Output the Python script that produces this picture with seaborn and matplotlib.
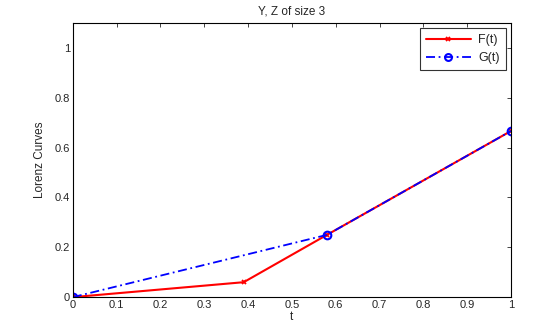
import matplotlib
matplotlib.use("Agg")
from matplotlib import pyplot as plt
import seaborn as sns
import pandas as pd
import numpy as np

# values
f_t = [0.0, 0.39, 0.58, 1.0]
f_val = [0.0, 0.06, 0.25, 0.667]
g_t = [0.0, 0.58, 1.0]
g_val = [0.0, 0.25, 0.667]
x_ticks = [0, 0.1, 0.2, 0.3, 0.4, 0.5, 0.6, 0.7, 0.8, 0.9, 1]
y_ticks = [0, 0.2, 0.4, 0.6, 0.8, 1]

sns.set_style("white")
plt.rcParams['font.family'] = ['Liberation Sans', 'DejaVu Sans']
plt.rcParams['xtick.direction'] = 'in'
plt.rcParams['ytick.direction'] = 'in'

fig = plt.figure(figsize=(5.6, 3.35), dpi=100)
ax = fig.add_axes([0.130, 0.113, 0.7825, 0.818])

df_f = pd.DataFrame({"t": f_t, "v": f_val})
df_g = pd.DataFrame({"t": g_t, "v": g_val})

sns.lineplot(data=df_f, x="t", y="v", ax=ax, color="red", linewidth=1.5,
             marker="x", markersize=3.5, markeredgewidth=1.3, markeredgecolor="red",
             label="F(t)")
sns.lineplot(data=df_g, x="t", y="v", ax=ax, color="blue", linewidth=1.3,
             linestyle=(0, (5, 2, 1, 2)), marker="o", markersize=5.5,
             markerfacecolor="none", markeredgewidth=1.5, markeredgecolor="blue",
             label="G(t)")

ax.set_xlim(0, 1)
ax.set_ylim(0, 1.1)
ax.set_xticks(x_ticks)
ax.set_xticklabels([f"{v:g}" for v in x_ticks])
ax.set_yticks(y_ticks)
ax.set_yticklabels([f"{v:g}" for v in y_ticks])
ax.tick_params(labelsize=8, length=3, width=0.6, top=True, right=True, pad=2)
for s in ax.spines.values():
    s.set_linewidth(0.8)
    s.set_color("black")

ax.set_xlabel("t", fontsize=8.5, labelpad=1)
ax.set_ylabel("Lorenz Curves", fontsize=8.5, labelpad=6)
ax.set_title("Y, Z of size 3", fontsize=8.5, pad=6)

leg = ax.legend(loc="upper right", fontsize=9, frameon=True, fancybox=False,
                edgecolor="black", borderaxespad=0.4, handlelength=3.6,
                borderpad=0.5, labelspacing=0.45, markerscale=0.9,
                handletextpad=0.6)
leg.get_frame().set_linewidth(0.8)

fig.savefig("out.png", dpi=100)
